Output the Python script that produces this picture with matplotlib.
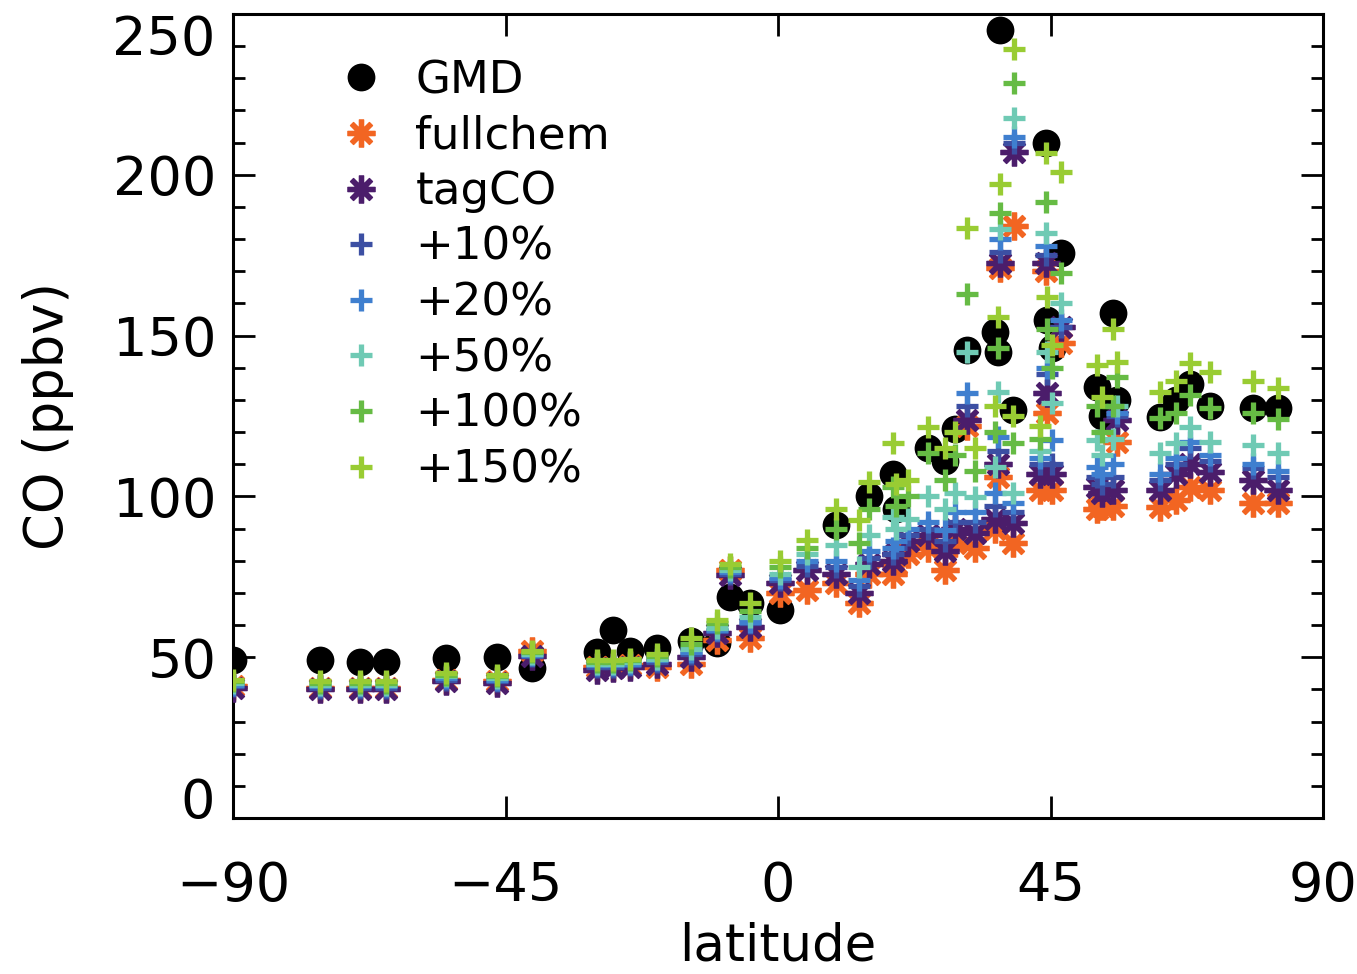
import numpy as np
import matplotlib
matplotlib.use("Agg")
import matplotlib.pyplot as plt
from matplotlib.ticker import MultipleLocator, FuncFormatter

nan = np.nan
lat = [-89.98, -75.6, -69.0, -64.8, -54.8, -46.4, -40.7, -29.9, -27.2, -24.4,
       -20.0, -14.3, -10.0, -8.0, -4.6, 0.3, 4.8, 9.6, 13.3, 15.0,
       19.0, 19.5, 21.5, 24.8, 27.6, 29.2, 31.2, 32.5, 35.9, 36.3,
       36.6, 38.8, 38.9, 43.3, 44.3, 44.5, 45.2, 46.7, 52.7, 53.5,
       55.3, 56.0, 63.0, 65.8, 68.0, 71.3, 78.5, 82.5]
gmd = [49, 49, 48.5, 48.5, 49.7, 50, 46.6, 51.7, 58.4, 52,
       53, 55, 54.4, 68.7, 67, 64.7, nan, 91, nan, 100,
       107, 96, nan, 115, 111, 121, 145.5, nan, 151, 145,
       245, 127, nan, nan, 210, 155, 146, 175.7, 134, 125,
       157, 130, 124.7, 130, 135, 128, 127.5, 127.5]
fullchem = [41, 40.5, 40.5, 40.5, 43, 42.5, 52, 47, 47, 47.5,
            47, 48, 55.3, 77, 56, 70, 71, 73, 67, 76,
            76, 79, 82, 84, 77, 85.5, 122, 84, 90, 106,
            171, 85.5, 184, 102, 170, 126, 102, 147.7, 96, 97,
            97, 117, 96.7, 99, 103, 102, 98, 98]
tagco = [40.5, 40, 40, 40, 42.5, 42, 50.5, 46, 46.5, 47,
         48, 50, 57.5, 75.5, 59.4, 73, 77, 76, 70, 79,
         80, 82, 86, 88, 83, 90, 123.7, 88.6, 93, 110,
         172.5, 91.7, 207, 107, 172.5, 132, 107, 152.7, 103, 101,
         102, 123.7, 102, 107, 110, 107.6, 105, 102]
p10 = [41, 40.5, 40.5, 40.5, 43, 42.5, 50.5, 47, 47, 47.5,
       48.5, 51, 58, 76, 60.5, 74, 78.5, 78, 72, 81,
       82, 84, 88, 90, 86, 92, 128, 92, 97, 114,
       176, 95, 210, 110, 175, 138, 110, 152.7, 106, 104,
       106, 125, 105, 110, 115, 111, 108.8, 106]
p20 = [41.5, 41, 41, 41, 43.5, 43, 50.8, 47.5, 47.5, 48,
       49, 51.5, 58.5, 76.5, 61, 74.6, 80, 80, 74, 83,
       84, 86, 90, 92, 89.5, 95, 132, 95, 101, 118.5,
       180, 98, 211.7, 112, 178, 140, 117.5, 155, 109, 107,
       110, 126, 107, 112, 117, 113, 110, 108]
p50 = [42, 41.5, 41.5, 41.5, 44, 43.5, 51, 48, 48, 48.5,
       49.5, 52.5, 59, 77, 62.5, 76, 82, 85, 78, 88,
       93.6, 90, 93, 100, 96, 101, 145, 99.8, 109, 132.5,
       183, 101, 217.7, 114, 182, 145, 129, 160, 117.5, 113,
       118, 128, 113.5, 116.6, 121.6, 117, 116, 113.5]
p100 = [42.5, 42, 42, 42, 44.5, 44, 51.5, 48.5, 48.5, 49,
        50.5, 54, 60.5, 78, 64.5, 78, 84, 90, 85.5, 96,
        103, 97, 100, 113.5, 105, 113, 163, 108, 120, 146,
        188, 116.6, 228.5, 118, 191.5, 152, 140, 169.5, 128, 120,
        128, 137, 124.4, 126, 131.5, 127.5, 126, 124]
p150 = [43, 42.5, 42.5, 42.5, 45, 44.5, 52, 49, 49, 49.5,
        51, 56, 61.6, 79, 67, 80, 86.5, 96, 92.7, 104.5,
        116.6, 104, 105, 121.6, 115, 120, 183.5, 115, 128, 155.8,
        197, 125, 239, 122, 206.7, 162, 147, 201, 141, 131,
        152, 141.8, 132.5, 136, 141.5, 138.7, 136, 133.7]

labels = ["GMD", "fullchem", "tagCO", "+10%", "+20%", "+50%", "+100%", "+150%"]
colors = ["#000000", "#f26522", "#4b1d6b", "#3c4fa3", "#3f7fcf", "#6fcab4", "#66bb44", "#99cc33"]
series = [gmd, fullchem, tagco, p10, p20, p50, p100, p150]
ymin, ymax = 0, 250

plt.rcParams['font.family'] = ['DejaVu Sans']
fig = plt.figure(figsize=(13.57, 9.74), dpi=100)
ax = fig.add_axes([233/1357, 1-818/974, 1090/1357, 804/974])

star = (8, 2, 0)
for i, (lab, col, vals) in enumerate(zip(labels, colors, series)):
    if i == 0:
        ax.plot(lat, vals, linestyle='none', marker='o', markersize=20,
                color=col, markeredgewidth=0, label=lab, zorder=2)
    elif i in (1, 2):
        ax.plot(lat, vals, linestyle='none', marker=star, markersize=20,
                color=col, markeredgewidth=3.8, label=lab, zorder=2 + i)
    else:
        ax.plot(lat, vals, linestyle='none', marker='+', markersize=16,
                color=col, markeredgewidth=3.8, label=lab, zorder=2 + i)

ax.set_xlim(-90, 90)
ax.set_ylim(ymin, ymax)
ax.xaxis.set_major_locator(MultipleLocator(45))
ax.yaxis.set_major_locator(MultipleLocator(50))
ax.yaxis.set_minor_locator(MultipleLocator(10))
ax.yaxis.set_major_formatter(FuncFormatter(
    lambda v, p: '' if v in (ymin, ymax) else f"{v:.0f}"))
ax.tick_params(axis='both', which='both', direction='in', top=True, right=True, width=2)
ax.tick_params(axis='both', which='major', length=16, labelsize=39)
ax.tick_params(axis='y', which='minor', length=8.5)
ax.tick_params(axis='x', which='major', pad=30)
ax.tick_params(axis='y', which='major', pad=12)
for s in ax.spines.values():
    s.set_linewidth(2.2)

# end labels kept inside the axis range, as in the original
yt = ax.get_yaxis_transform()
ax.text(-18/1090, ymax, f"{ymax}", transform=yt, ha='right', va='top', fontsize=39)
ax.text(-18/1090, ymin, f"{ymin}", transform=yt, ha='right', va='baseline', fontsize=39)

ax.set_xlabel("latitude", fontsize=37, labelpad=7)
ax.set_ylabel("CO (ppbv)", fontsize=38, labelpad=28)

leg = ax.legend(loc='upper left', bbox_to_anchor=(0.097, 0.944), frameon=False,
                fontsize=32.5, handlelength=1.0, handletextpad=0.70,
                labelspacing=0.28, borderpad=0, borderaxespad=0, numpoints=1)

fig.savefig("out.png", dpi=100)
